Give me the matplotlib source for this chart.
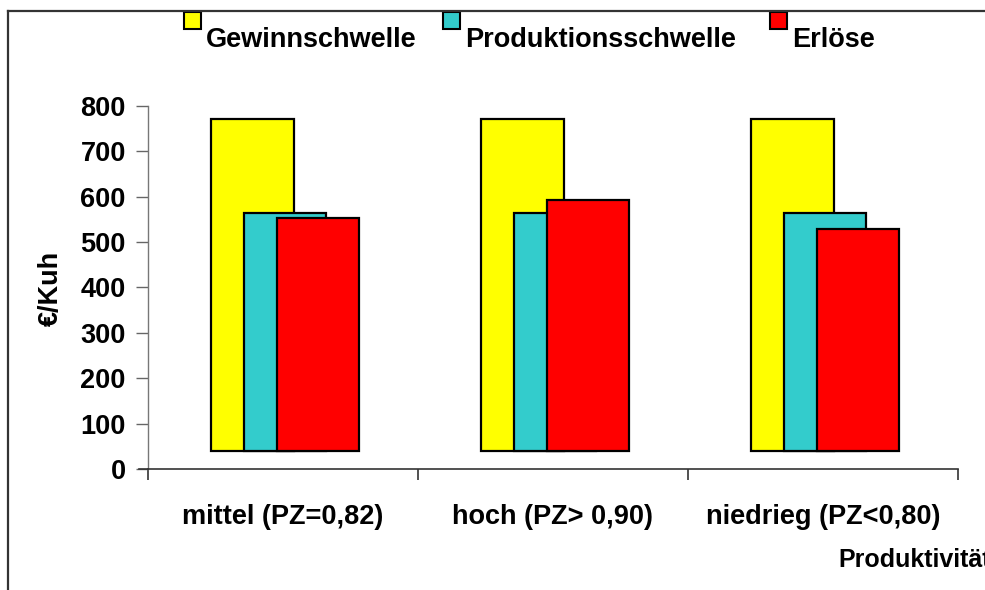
import matplotlib
matplotlib.use("Agg")
import matplotlib.pyplot as plt
from matplotlib.patches import Rectangle
from matplotlib.lines import Line2D
import numpy as np

plt.rcParams['font.family'] = ['Liberation Sans', 'DejaVu Sans']
plt.rcParams['font.weight'] = 'bold'

categories = ["mittel (PZ=0,82)", "hoch (PZ> 0,90)", "niedrieg (PZ<0,80)"]
series_names = ["Gewinnschwelle", "Produktionsschwelle", "Erlöse"]
gewinnschwelle = [770, 770, 770]
produktionsschwelle = [564, 564, 564]
erloese = [553, 593, 528]
series_values = [gewinnschwelle, produktionsschwelle, erloese]
colors = ["#FFFF00", "#33CCCC", "#FF0000"]
yticks = [0, 100, 200, 300, 400, 500, 600, 700, 800]
y_label = "€/Kuh"
x_label = "Produktivität"

W, H = 985, 590
FS = 19.5
fig = plt.figure(figsize=(W / 100, H / 100), dpi=100)
ax = fig.add_axes([148 / W, (H - 469) / H, (958 - 148) / W, (469 - 105.7) / H])

floor = 40
width = 0.304
offsets = [-0.113, 0.009, 0.131]
x = np.arange(len(categories))
for vals, col, off in zip(series_values, colors, offsets):
    v = np.array(vals, dtype=float)
    ax.bar(x + off, v - floor, bottom=floor, width=width, color=col,
           edgecolor="black", linewidth=1.6, zorder=3)

ax.set_xlim(-0.5, len(categories) - 0.5)
ax.set_ylim(0, 800)
ax.set_yticks(yticks)
ax.set_yticklabels([str(t) for t in yticks], fontsize=FS, fontweight='bold')
ax.set_xticks(x)
ax.set_xticklabels(categories, fontsize=FS, fontweight='bold')
ax.set_xticks(np.arange(-0.5, len(categories), 1.0), minor=True)
ax.tick_params(axis='x', which='major', length=0, pad=25)
ax.tick_params(axis='x', which='minor', length=8, width=1.2, color='#333333', direction='out')
ax.tick_params(axis='y', length=9, width=1.0, color='#666666', direction='out', pad=7)

for s in ['top', 'right']:
    ax.spines[s].set_visible(False)
ax.spines['left'].set_color('#777777')
ax.spines['left'].set_linewidth(1.0)
ax.spines['bottom'].set_color('#333333')
ax.spines['bottom'].set_linewidth(1.2)
ax.spines['bottom'].set_bounds(-0.5, len(categories) - 0.5)

# extend x axis line slightly to the left (as in reference)
fig.add_artist(Line2D([139 / W, 148 / W], [(H - 469) / H] * 2, color='#333333', lw=1.2))

# outer frame (left and top edges visible)
fig.add_artist(Line2D([8 / W, 8 / W], [0, (H - 10.5) / H], color='#333333', lw=1.6))
fig.add_artist(Line2D([8 / W, 1.0], [(H - 10.5) / H] * 2, color='#333333', lw=1.6))

# legend
leg_sq_x = [184, 443, 770]
for name, col, sx in zip(series_names, colors, leg_sq_x):
    fig.add_artist(Rectangle((sx / W, (H - 29) / H), 17 / W, 17 / H,
                             facecolor=col, edgecolor='black', lw=1.5,
                             transform=fig.transFigure))
    fig.text((sx + 22) / W, (H - 47) / H, name, fontsize=FS, fontweight='bold',
             ha='left', va='baseline')

fig.text(51 / W, (H - 288) / H, y_label, rotation=90, fontsize=FS,
         fontweight='bold', ha='center', va='center')
fig.text(838 / W, (H - 560) / H, x_label, fontsize=18, fontweight='bold',
         ha='left', va='center')

fig.savefig("out.png", dpi=100)
